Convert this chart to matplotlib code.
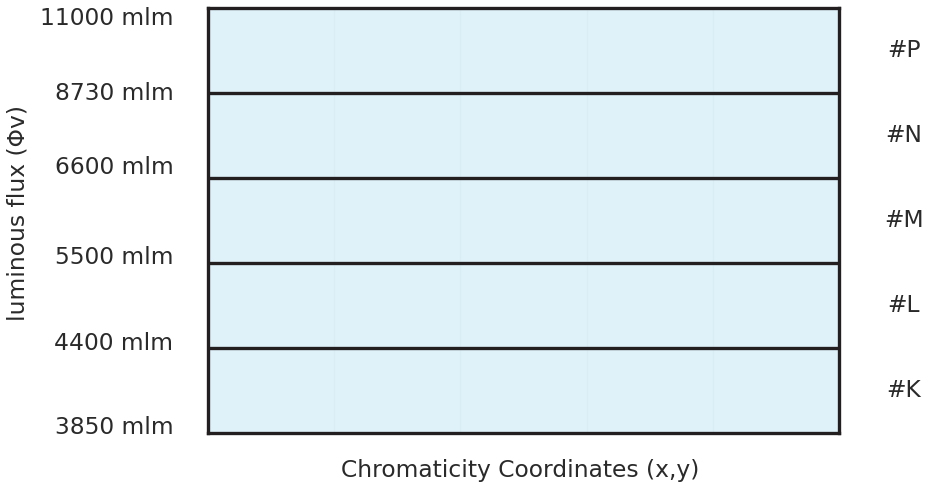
import matplotlib.pyplot as plt

# flux bin boundaries (bottom -> top) and bin names
flux_labels = ['3850 mlm', '4400 mlm', '5500 mlm', '6600 mlm', '8730 mlm', '11000 mlm']
bin_names = ['#K', '#L', '#M', '#N', '#P']

# small nudges so the boundary labels sit like the original (data units)
label_dy = [0.07, 0.053, 0.07, 0.129, -0.006, -0.124]

fill = '#dff2f9'
line = '#231f20'
text_c = '#2a2a2a'
fs = 16.8

fig = plt.figure(figsize=(9.25, 4.87), dpi=100)
ax = fig.add_axes([208 / 925, 1 - 433 / 487, 631 / 925, 425 / 487])

n = len(bin_names)
pos = list(range(n))
ax.barh(pos, [1] * n, height=1, left=0, align='edge',
        color=fill, edgecolor='none', zorder=1)

# very faint vertical grid
for gx in [0.2, 0.4, 0.6, 0.8]:
    ax.axvline(gx, color='#d9edf4', lw=0.8, zorder=2)

# boundaries between bins
for i in range(1, n):
    ax.axhline(i, color=line, lw=2.4, zorder=3)

ax.set_xlim(0, 1)
ax.set_ylim(0, n)
for s in ax.spines.values():
    s.set_linewidth(2.4)
    s.set_color(line)
    s.set_zorder(4)
ax.set_xticks([])
ax.set_yticks([])

tr = ax.get_yaxis_transform()
for i, lab in enumerate(flux_labels):
    ax.text(-0.055, i + label_dy[i], lab, transform=tr, ha='right', va='center',
            fontsize=fs, color=text_c, clip_on=False)

for i, name in enumerate(bin_names):
    ax.text(1.103, i + 0.5, name, transform=tr, ha='center', va='center',
            fontsize=fs, color=text_c, clip_on=False)

fig.text(18 / 925, 1 - 213 / 487, 'luminous flux (Φv)', rotation=90,
         ha='center', va='center', fontsize=fs, color=text_c)
fig.text(520 / 925, 1 - 470 / 487, 'Chromaticity Coordinates (x,y)',
         ha='center', va='center', fontsize=fs, color=text_c)

fig.savefig('out.png', dpi=100)
